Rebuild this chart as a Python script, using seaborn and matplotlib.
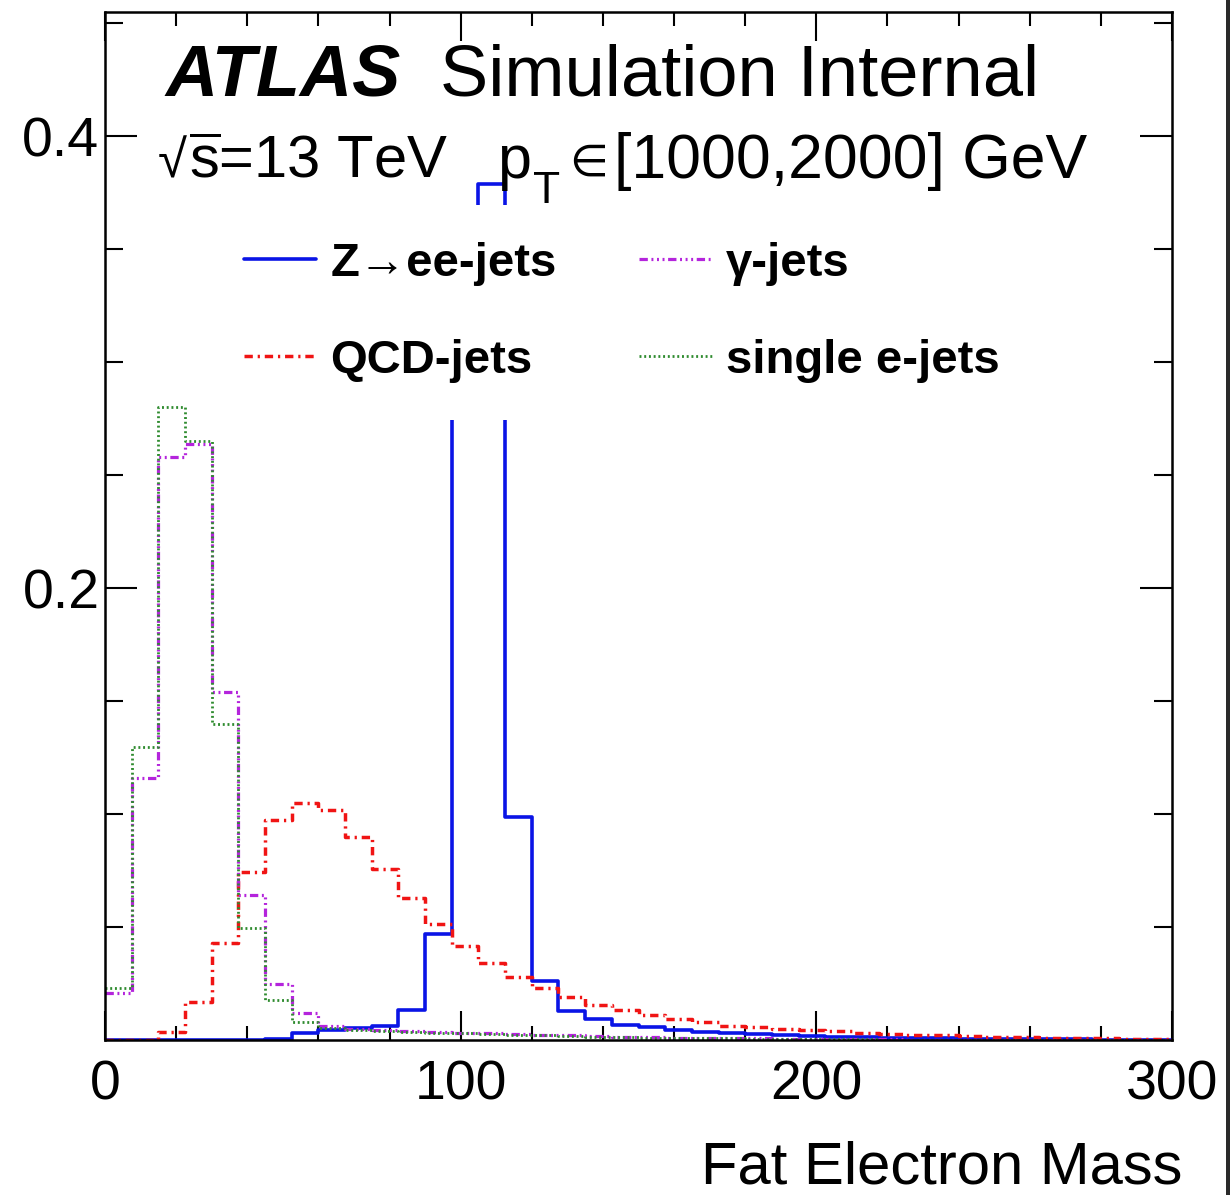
import numpy as np
import pandas as pd
import seaborn as sns
import matplotlib
matplotlib.use("Agg")
import matplotlib.pyplot as plt
from matplotlib.ticker import MultipleLocator, FixedLocator
from matplotlib.patches import Rectangle

# ---------------- data (bin contents, 40 bins of width 7.5 from 0 to 300) ----------------
bin_width = 7.5
x_range = (0, 300)

z_ee_jets = [0, 0, 0, 0, 0, 0, 0.0005, 0.003, 0.0044, 0.0053,
             0.006, 0.0133, 0.047, 0.33, 0.379, 0.0987, 0.026, 0.013, 0.0092, 0.0066,
             0.0058, 0.0044, 0.0035, 0.003, 0.0025, 0.002, 0.0017, 0.0014, 0.0012, 0.001,
             0.0008, 0.0007, 0.0006, 0.0005, 0.0004, 0.0003, 0.0003, 0.0002, 0.0002, 0.0001]

qcd_jets = [0, 0, 0.0035, 0.0168, 0.043, 0.0743, 0.0973, 0.105, 0.1018, 0.0898,
            0.0757, 0.0628, 0.0513, 0.0416, 0.034, 0.0279, 0.023, 0.019, 0.0155, 0.0133,
            0.011, 0.0093, 0.008, 0.0062, 0.0057, 0.0049, 0.0044, 0.0038, 0.0033, 0.0028,
            0.0024, 0.002, 0.0017, 0.0014, 0.0012, 0.001, 0.0008, 0.0007, 0.0006, 0.0005]

gamma_jets = [0.021, 0.116, 0.258, 0.264, 0.154, 0.064, 0.0248, 0.012, 0.0062, 0.0048,
              0.0044, 0.004, 0.0036, 0.0032, 0.0029, 0.0026, 0.0023, 0.002, 0.0017, 0.0015,
              0.0013, 0.0011, 0.0009, 0.0008, 0.0007, 0.0006, 0.0005, 0.0004, 0.0003, 0.0003,
              0.0002, 0.0002, 0.0001, 0.0001, 0.0001, 0, 0, 0, 0, 0]

single_e_jets = [0.023, 0.1296, 0.280, 0.265, 0.140, 0.0496, 0.0177, 0.008, 0.0052, 0.0044,
                 0.004, 0.0036, 0.0032, 0.0029, 0.0026, 0.0023, 0.002, 0.0018, 0.0015, 0.0013,
                 0.0011, 0.001, 0.0008, 0.0007, 0.0006, 0.0005, 0.0004, 0.0003, 0.0003, 0.0002,
                 0.0002, 0.0001, 0.0001, 0.0001, 0, 0, 0, 0, 0, 0]

series_labels = ["Z\u2192ee-jets", "QCD-jets", "\u03b3-jets", "single e-jets"]
series_values = [z_ee_jets, qcd_jets, gamma_jets, single_e_jets]
series_colors = ["#0a14e6", "#f01414", "#b424dc", "#2e8b2e"]

x_tick_values = [0, 100, 200, 300]
x_tick_labels = ["0", "100", "200", "300"]
y_tick_values = [0.2, 0.4]
y_tick_labels = ["0.2", "0.4"]

# ---------------- style ----------------
sns.set_theme(style="white")
plt.rcParams["font.family"] = ["Liberation Sans", "DejaVu Sans"]
plt.rcParams["mathtext.fontset"] = "custom"
plt.rcParams["mathtext.rm"] = "Liberation Sans"
plt.rcParams["mathtext.it"] = "Liberation Sans:italic"
plt.rcParams["mathtext.bf"] = "Liberation Sans:bold"
plt.rcParams["lines.scale_dashes"] = False
for key in ["text.color", "axes.labelcolor", "xtick.color", "ytick.color",
            "axes.edgecolor"]:
    plt.rcParams[key] = "black"

W, H = 1230, 1195
fig = plt.figure(figsize=(W / 100, H / 100), dpi=100)
fig.patch.set_facecolor("white")

ax_l, ax_r, ax_t, ax_b = 105, 1172, 12, 1040
ax = fig.add_axes([ax_l / W, 1 - ax_b / H, (ax_r - ax_l) / W, (ax_b - ax_t) / H])


def fx(px):
    return px / W


def fy(py):
    return 1 - py / H


n_bins = len(z_ee_jets)
centers = x_range[0] + bin_width * (np.arange(n_bins) + 0.5)
line_styles = ["-",
               (0, (6, 3.5, 1.6, 3.5)),
               (0, (6, 2.6, 1.4, 2.6, 1.4, 2.6, 1.4, 2.6)),
               (0, (1.4, 2.0))]
line_widths = [2.6, 2.5, 2.3, 2.0]

for lab, vals, col, ls, lw in zip(series_labels, series_values, series_colors,
                                  line_styles, line_widths):
    df = pd.DataFrame({"mass": centers, "w": vals})
    sns.histplot(data=df, x="mass", weights="w", binwidth=bin_width, binrange=x_range,
                 element="step", fill=False, color=col, linestyle=ls, linewidth=lw,
                 label=lab, ax=ax)

ax.set_xlim(0, 300)
ax.set_ylim(0, 0.455)
ax.set_xlabel("")
ax.set_ylabel("")

ax.xaxis.set_major_locator(FixedLocator(x_tick_values))
ax.set_xticklabels(x_tick_labels)
ax.xaxis.set_minor_locator(MultipleLocator(20))
ax.yaxis.set_major_locator(FixedLocator(y_tick_values))
ax.set_yticklabels(y_tick_labels)
ax.yaxis.set_minor_locator(MultipleLocator(0.05))

ax.tick_params(which="both", direction="in", top=True, right=True, bottom=True,
               left=True, colors="black", width=1.5)
ax.tick_params(axis="x", which="major", length=21, labelsize=40, pad=14)
ax.tick_params(axis="x", which="minor", length=10)
ax.tick_params(axis="y", which="major", length=23, labelsize=40, pad=4)
ax.tick_params(axis="y", which="minor", length=13)
for sp in ax.spines.values():
    sp.set_visible(True)
    sp.set_color("black")
    sp.set_linewidth(1.8)

# legend
handles, labels = ax.get_legend_handles_labels()
leg = ax.legend(handles, labels, ncol=2, loc="upper left",
                bbox_to_anchor=((207 - ax_l) / (ax_r - ax_l), (ax_b - 205) / (ax_b - ax_t)),
                borderaxespad=0, frameon=True, facecolor="white", edgecolor="none",
                framealpha=1.0, fancybox=False, handlelength=1.53, handletextpad=0.3,
                columnspacing=1.75, labelspacing=1.12, borderpad=0.78,
                prop={"family": ["Liberation Sans", "DejaVu Sans"], "weight": "bold",
                      "size": 34})

# ATLAS labels
fig.text(fx(165), fy(95), "ATLAS", fontsize=52, fontweight="bold", fontstyle="italic",
         ha="left", va="baseline")
fig.text(fx(440), fy(95), "Simulation Internal", fontsize=52, ha="left", va="baseline")
fig.text(fx(158), fy(178), "\u221a", fontsize=38, ha="left", va="baseline")
fig.text(fx(189), fy(178), r"$\overline{\mathrm{s}}$=13 TeV", fontsize=43, ha="left",
         va="baseline")
fig.text(fx(497), fy(178), "p", fontsize=44, ha="left", va="baseline")
fig.text(fx(533), fy(203), "T", fontsize=32, ha="left", va="baseline")
fig.text(fx(569), fy(176), "\u2208", fontsize=32, ha="left", va="baseline",
         family=["DejaVu Sans"])
fig.text(fx(614), fy(178), "[1000,2000] GeV", fontsize=45, ha="left", va="baseline")

# x axis title
fig.text(fx(1182), fy(1184), "Fat Electron Mass", fontsize=43, ha="right", va="baseline")

# right screenshot border
fig.patches.append(Rectangle((fx(1226), 0), fx(4), 1, transform=fig.transFigure,
                             facecolor="#2a2a2a", edgecolor="none"))

fig.savefig("out.png", dpi=100)
